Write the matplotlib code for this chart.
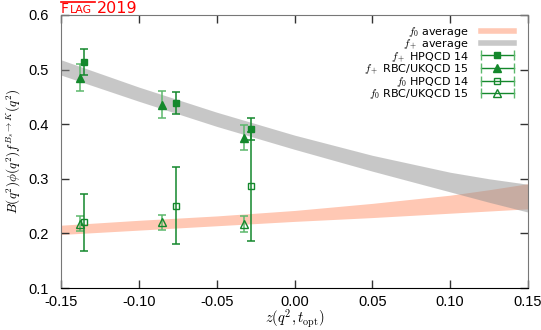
import matplotlib
matplotlib.use("Agg")
import matplotlib.pyplot as plt
from matplotlib.lines import Line2D
from matplotlib.legend_handler import HandlerBase

plt.rcParams["mathtext.fontset"] = "cm"

# bands
band_z = [-0.15, -0.10, -0.05, 0.00, 0.05, 0.10, 0.125, 0.15]
fplus_hi = [0.518, 0.468, 0.422, 0.380, 0.343, 0.312, 0.300, 0.290]
fplus_lo = [0.490, 0.442, 0.396, 0.354, 0.314, 0.276, 0.257, 0.239]
fzero_hi = [0.215, 0.224, 0.232, 0.242, 0.255, 0.270, 0.280, 0.291]
fzero_lo = [0.198, 0.206, 0.214, 0.222, 0.229, 0.237, 0.241, 0.245]

# lattice points
hpqcd_z = [-0.1352, -0.0763, -0.0277]
hpqcd_fplus = [0.514, 0.439, 0.391]
hpqcd_fplus_err = [0.023, 0.020, 0.020]
hpqcd_fzero = [0.220, 0.251, 0.286]
hpqcd_fzero_err = [0.052, 0.070, 0.100]

rbc_z = [-0.138, -0.0853, -0.0324]
rbc_fplus = [0.485, 0.436, 0.375]
rbc_fplus_err = [0.025, 0.024, 0.023]
rbc_fzero = [0.218, 0.220, 0.217]
rbc_fzero_err = [0.014, 0.014, 0.014]

xticks = [-0.15, -0.10, -0.05, 0.00, 0.05, 0.10, 0.15]
yticks = [0.1, 0.2, 0.3, 0.4, 0.5, 0.6]

GREEN = "#14882c"
LIGHT = "#5cb86c"
ORANGE = "#ffc8b4"
GREY = "#919191"


class ErrBarHandler(HandlerBase):
    """gnuplot style key sample: horizontal bar with end caps and a marker"""

    def create_artists(self, legend, orig_handle, xdescent, ydescent, width, height, fontsize, trans):
        y = height / 2 - ydescent
        x0, x1 = -xdescent, width - xdescent
        bar = Line2D([x0, x1], [y, y], color=GREEN, lw=1.0)
        caps = Line2D([x0, x1], [y, y], ls="none", marker="|", ms=7, mew=1.0, color=LIGHT)
        mk = Line2D([(x0 + x1) / 2], [y], ls="none", marker=orig_handle.get_marker(),
                    ms=orig_handle.get_markersize(), mfc=orig_handle.get_markerfacecolor(),
                    mec=GREEN, mew=1.0)
        for a in (bar, caps, mk):
            a.set_transform(trans)
        return [bar, caps, mk]


fig = plt.figure(figsize=(5.41, 3.30), dpi=100)
ax = fig.add_axes([61 / 541, 1 - 288 / 330, 467 / 541, 273 / 330])

ax.fill_between(band_z, fzero_lo, fzero_hi, color=ORANGE, lw=0, zorder=1)
ax.fill_between(band_z, fplus_lo, fplus_hi, color=GREY, alpha=0.5, lw=0, zorder=2)

ekw = dict(ls="none", capsize=3.2, elinewidth=1.1, capthick=1.1, zorder=4)
ax.errorbar(rbc_z, rbc_fplus, yerr=rbc_fplus_err, marker="^", ms=5.5, color=GREEN,
            ecolor=LIGHT, **ekw)
ax.errorbar(rbc_z, rbc_fzero, yerr=rbc_fzero_err, marker="^", ms=5.5, color=GREEN,
            mfc="none", ecolor=LIGHT, **ekw)
ax.errorbar(hpqcd_z, hpqcd_fplus, yerr=hpqcd_fplus_err, marker="s", ms=5, color=GREEN,
            ecolor=GREEN, **ekw)
ax.errorbar(hpqcd_z, hpqcd_fzero, yerr=hpqcd_fzero_err, marker="s", ms=5, color=GREEN,
            mfc="none", ecolor=GREEN, **ekw)

ax.set_xlim(-0.15, 0.15)
ax.set_ylim(0.1, 0.6)
ax.set_xticks(xticks)
ax.set_yticks(yticks)
ax.set_xticklabels([f"{v:.2f}" for v in xticks])
ax.set_yticklabels([f"{v:.1f}" for v in yticks])
ax.tick_params(direction="in", length=6, width=1.0, color="#333333", top=True, right=True,
               labelsize=10.5)
ax.tick_params(axis="x", pad=5)
ax.tick_params(axis="y", pad=8.5)
for lab in ax.get_xticklabels() + ax.get_yticklabels():
    lab.set_fontfamily("Liberation Sans")
for side in ("top", "right", "left"):
    ax.spines[side].set_color("#777777")
ax.spines["bottom"].set_color("black")

ax.set_xlabel(r"$z(q^2,t_{\rm opt})$", fontsize=10.5, labelpad=-1)
ax.set_ylabel(r"$B(q^2)\phi(q^2)f^{B_s\to K}(q^2)$", fontsize=9.5)
ax.yaxis.set_label_coords(-0.082, 0.5)

handles = [
    Line2D([], [], color=ORANGE, lw=4),
    Line2D([], [], color="#c8c8c8", lw=4),
    Line2D([], [], marker="s", ms=5, mfc=GREEN),
    Line2D([], [], marker="^", ms=5.5, mfc=GREEN),
    Line2D([], [], marker="s", ms=5, mfc="none"),
    Line2D([], [], marker="^", ms=5.5, mfc="none"),
]
labels = [r"$f_0$ average", r"$f_+$ average", r"$f_+$ HPQCD 14", r"$f_+$ RBC/UKQCD 15",
          r"$f_0$ HPQCD 14", r"$f_0$ RBC/UKQCD 15"]
eh = ErrBarHandler()
ax.legend(handles, labels, handler_map={h: eh for h in handles[2:]},
          loc="upper right", bbox_to_anchor=(0.970, 0.965), frameon=False, markerfirst=False,
          fontsize=8, handlelength=3.0, handletextpad=1.1, labelspacing=-0.12,
          borderpad=0, borderaxespad=0)

# FLAG2019 logo
red = "#ff0000"
fig.text(61 / 541, 1 - 13.3 / 330, "F", color=red, fontsize=10, va="baseline")
fig.text(69.5 / 541, 1 - 13.3 / 330, "LAG", color=red, fontsize=7.8, va="baseline")
fig.text(97 / 541, 1 - 13.3 / 330, "2019", color=red, fontsize=11.5, va="baseline")
fig.add_artist(Line2D([61 / 541, 95 / 541], [1 - 2 / 330, 1 - 2 / 330], color=red, lw=1.2,
                      transform=fig.transFigure))

fig.savefig("out.png", dpi=100)
